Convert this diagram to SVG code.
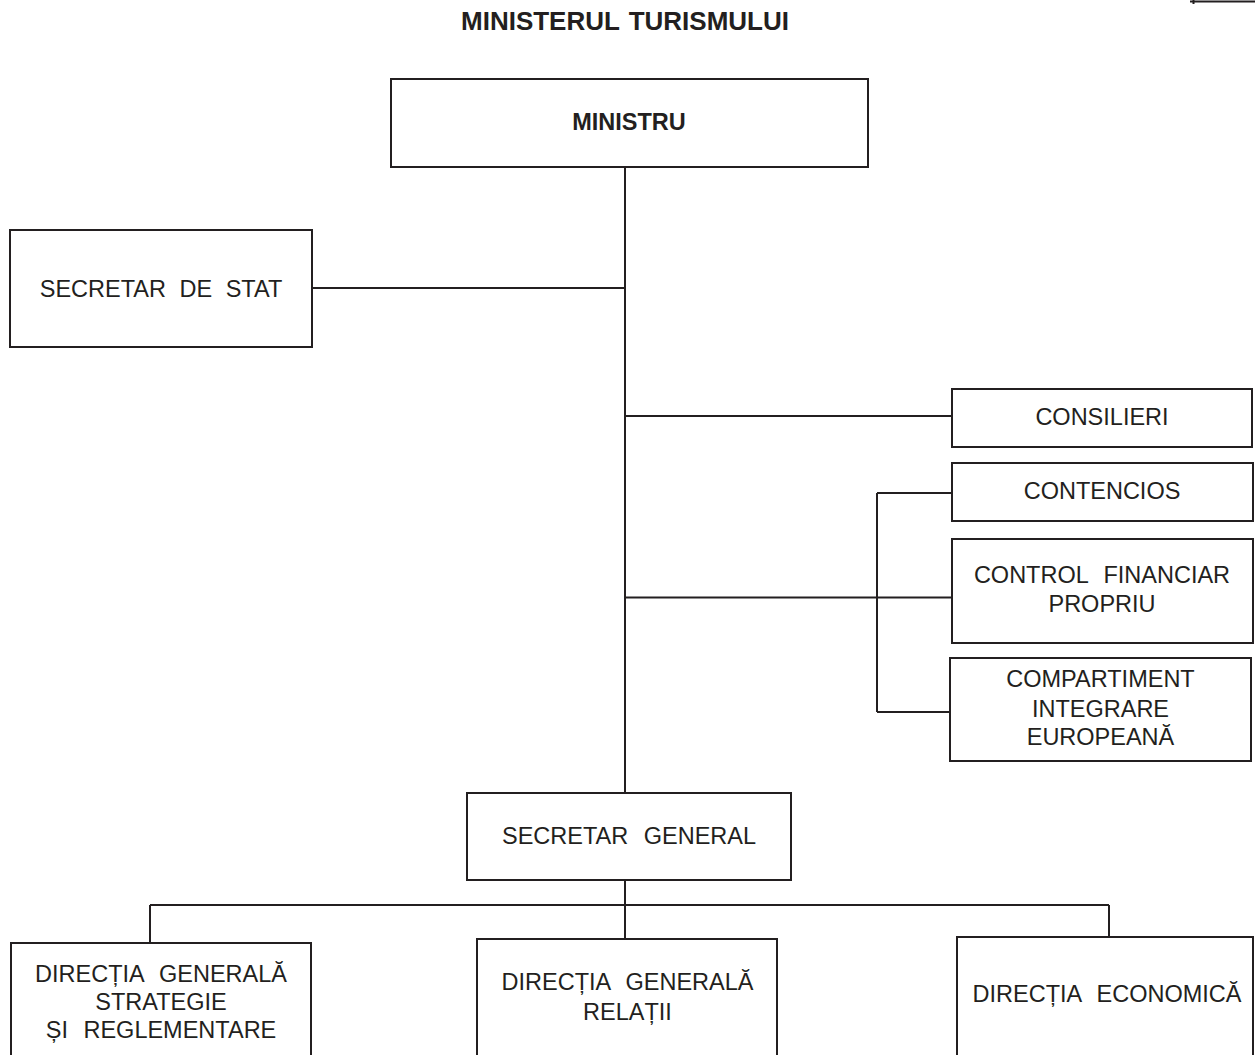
<svg xmlns="http://www.w3.org/2000/svg" width="1255" height="1055" viewBox="0 0 1255 1055">
  <style>
    .box { fill: #ffffff; stroke: #231f20; stroke-width: 2; }
    .ln { fill: none; stroke: #231f20; stroke-width: 2; }
    .t { font-family: "Liberation Sans", Arial, sans-serif; font-size: 23.5px; fill: #231f20; text-anchor: middle; word-spacing: 9px; }
    .b { font-weight: bold; }
  </style>
  <rect x="0" y="0" width="1255" height="1055" fill="#ffffff"/>
  <path class="ln" d="M1190 1.5 H1255 M1193.5 0 V4"/>
  <text class="t b" x="625" y="30" style="font-size:26px;word-spacing:2px">MINISTERUL TURISMULUI</text>

  <g id="connectors">
    <path class="ln" d="M625 167 V793"/>
    <path class="ln" d="M312 288 H625"/>
    <path class="ln" d="M625 416 H952"/>
    <path class="ln" d="M625 597.5 H952"/>
    <path class="ln" d="M877 493 V712 M877 493 H952 M877 712 H950"/>
    <path class="ln" d="M625 880 V939"/>
    <path class="ln" d="M150 905 H1109 M150 905 V943 M1109 905 V937"/>
  </g>

  <g id="ministru">
    <rect class="box" x="391" y="79" width="477" height="88"/>
    <text class="t b" x="629" y="130">MINISTRU</text>
  </g>
  <g id="secretar-de-stat">
    <rect class="box" x="10" y="230" width="302" height="117"/>
    <text class="t" x="161" y="297" style="word-spacing:7px">SECRETAR DE STAT</text>
  </g>
  <g id="consilieri">
    <rect class="box" x="952" y="389" width="300" height="58"/>
    <text class="t" x="1102" y="425">CONSILIERI</text>
  </g>
  <g id="contencios">
    <rect class="box" x="952" y="463" width="301" height="58"/>
    <text class="t" x="1102" y="499">CONTENCIOS</text>
  </g>
  <g id="control-financiar">
    <rect class="box" x="952" y="539" width="301" height="104"/>
    <text class="t" x="1102" y="583">CONTROL FINANCIAR</text>
    <text class="t" x="1102" y="612">PROPRIU</text>
  </g>
  <g id="compartiment-integrare">
    <rect class="box" x="950" y="658" width="301" height="103"/>
    <text class="t" x="1100.5" y="687">COMPARTIMENT</text>
    <text class="t" x="1100.5" y="716.5">INTEGRARE</text>
    <text class="t" x="1100.5" y="745">EUROPEANĂ</text>
  </g>
  <g id="secretar-general">
    <rect class="box" x="467" y="793" width="324" height="87"/>
    <text class="t" x="629" y="844">SECRETAR GENERAL</text>
  </g>
  <g id="dg-strategie">
    <rect class="box" x="11" y="943" width="300" height="130"/>
    <text class="t" x="161" y="982">DIRECȚIA GENERALĂ</text>
    <text class="t" x="161" y="1010">STRATEGIE</text>
    <text class="t" x="161" y="1038">ȘI REGLEMENTARE</text>
  </g>
  <g id="dg-relatii">
    <rect class="box" x="477" y="939" width="300" height="130"/>
    <text class="t" x="627.5" y="990">DIRECȚIA GENERALĂ</text>
    <text class="t" x="627.5" y="1020">RELAȚII</text>
  </g>
  <g id="directia-economica">
    <rect class="box" x="957" y="937" width="296" height="130"/>
    <text class="t" x="1107" y="1002">DIRECȚIA ECONOMICĂ</text>
  </g>
</svg>
